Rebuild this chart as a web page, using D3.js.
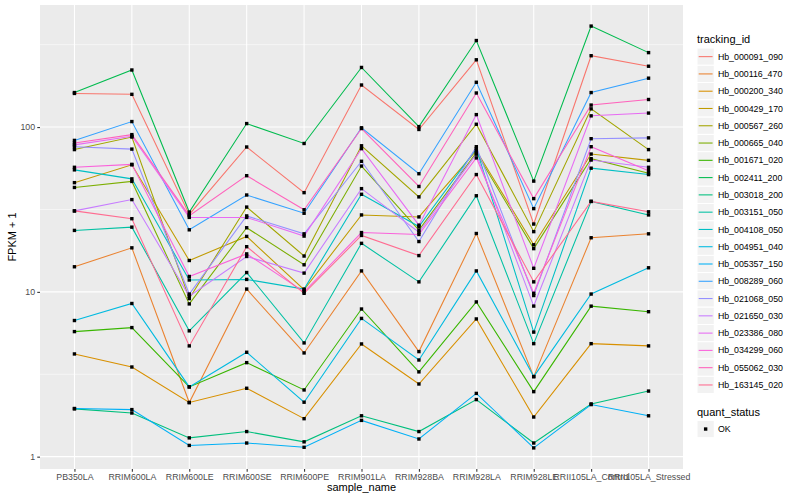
<!DOCTYPE html>
<html>
<head>
<meta charset="utf-8">
<script src="https://cdn.jsdelivr.net/npm/d3@7"></script>
<style>
  body { margin: 0; background: #fff; }
  text { font-family: "Liberation Sans", Arial, sans-serif; }
</style>
</head>
<body>
<svg id="chart"></svg>
<script>
'use strict';

// ── data ────────────────────────────────────────────────────────────────
const samples = ['PB350LA', 'RRIM600LA', 'RRIM600LE', 'RRIM600SE', 'RRIM600PE', 'RRIM901LA',
  'RRIM928BA', 'RRIM928LA', 'RRIM928LE', 'RRII105LA_Control', 'RRII105LA_Stressed'];

const trackingIds = ['Hb_000091_090', 'Hb_000116_470', 'Hb_000200_340', 'Hb_000429_170',
  'Hb_000567_260', 'Hb_000665_040', 'Hb_001671_020', 'Hb_002411_200', 'Hb_003018_200',
  'Hb_003151_050', 'Hb_004108_050', 'Hb_004951_040', 'Hb_005357_150', 'Hb_008289_060',
  'Hb_021068_050', 'Hb_021650_030', 'Hb_023386_080', 'Hb_034299_060', 'Hb_055062_030',
  'Hb_163145_020'];

// FPKM + 1, one row per tracking_id, columns in samples order
const fpkmPlusOne = [
  [160, 158, 29.5, 75.7, 40, 180, 96.7, 256, 25.8, 271, 234],        // 000091_090
  [14.2, 18.5, 2.13, 10.4, 4.26, 13.4, 4.34, 22.6, 3.06, 21.3, 22.5], // 000116_470
  [4.2, 3.5, 2.13, 2.6, 1.7, 4.83, 2.76, 6.85, 1.74, 4.85, 4.7],      // 000200_340
  [46, 59, 15.5, 21.7, 10.3, 29.3, 28.5, 72, 19.3, 68.6, 62.8],       // 000429_170
  [73, 87, 9.1, 32.7, 16.5, 77, 37.7, 104, 23.2, 129, 73],            // 000567_260
  [43, 46.8, 8.45, 24.5, 14.6, 58, 23.7, 70, 18.3, 64.3, 52.5],       // 000665_040
  [5.74, 6.07, 2.65, 3.72, 2.54, 7.87, 3.27, 8.69, 2.48, 8.19, 7.58], // 001671_020
  [162, 222, 30.5, 105, 79.5, 230, 100.6, 335, 47, 410, 283],         // 002411_200
  [1.95, 1.84, 1.3, 1.42, 1.23, 1.77, 1.42, 2.22, 1.21, 2.09, 2.5],   // 003018_200
  [23.6, 24.7, 5.8, 13.1, 4.9, 19.7, 11.5, 38.3, 4.85, 35.4, 29.3],   // 003151_050
  [55, 48.5, 11.8, 11.9, 10.4, 39.1, 24.9, 74, 5.7, 56.3, 51.5],      // 004108_050
  [6.7, 8.5, 2.65, 4.3, 2.14, 6.9, 3.86, 13.4, 3.06, 9.7, 14],        // 004951_040
  [1.96, 1.93, 1.17, 1.21, 1.14, 1.66, 1.28, 2.42, 1.13, 2.07, 1.77], // 005357_150
  [83, 108, 23.8, 38.7, 30, 99, 52.1, 187, 32, 162, 198],             // 008289_060
  [76, 73.5, 9.7, 28.9, 22.5, 62, 20.2, 76, 9.5, 85, 86],             // 021068_050
  [31, 36.3, 9.4, 16.4, 13, 42.3, 23, 68.5, 8.2, 63.1, 57],           // 021650_030
  [78, 88, 28.3, 28.3, 21.8, 74, 25.4, 119, 13.9, 117, 121.6],        // 023386_080
  [57, 59.4, 12.4, 17, 10, 22.9, 22.3, 65, 9.8, 76, 54.4],            // 034299_060
  [80, 90, 29, 50.7, 31.5, 98, 43.6, 161, 36.8, 136, 147],            // 055062_030
  [31, 27.8, 4.7, 18.8, 9.8, 22, 16.6, 51.5, 11.5, 35.4, 30.6],       // 163145_020
];

const quantStatus = ['OK'];
const yTicks = [1, 10, 100];
const yMinor = [Math.sqrt(10), Math.sqrt(1000), Math.sqrt(100000)];

// ggplot hue palette, 20 levels
const palette = ['#F8766D', '#EA8331', '#D89000', '#C09B00', '#A3A500', '#7CAE00', '#39B600',
  '#00BB4E', '#00BF7D', '#00C1A3', '#00BFC4', '#00BAE0', '#00B0F6', '#35A2FF', '#9590FF',
  '#C77CFF', '#E76BF3', '#FA62DB', '#FF62BC', '#FF6C91'];

// ── layout ──────────────────────────────────────────────────────────────
const W = 800, H = 500;
const P = { l: 40, r: 683, t: 5, b: 469 };
const TXT = '#4D4D4D';

const svg = d3.select('#chart').attr('width', W).attr('height', H);

const color = d3.scaleOrdinal().domain(trackingIds).range(palette);
const x = d3.scalePoint().domain(samples).range([P.l, P.r]).padding(0.6);

// log scale with ggplot-style 5% expansion in log space
const all = fpkmPlusOne.flat();
const lo = Math.log10(d3.min(all)), hi = Math.log10(d3.max(all));
const ex = (hi - lo) * 0.05;
const y = d3.scaleLog().domain([10 ** (lo - ex), 10 ** (hi + ex)]).range([P.b, P.t]);

// ── panel + grid ────────────────────────────────────────────────────────
svg.append('rect')
  .attr('x', P.l).attr('y', P.t)
  .attr('width', P.r - P.l).attr('height', P.b - P.t)
  .attr('fill', '#EBEBEB');

const grid = svg.append('g');
grid.selectAll('.minor')
  .data(yMinor.filter(v => v >= y.domain()[0] && v <= y.domain()[1]))
  .join('line')
  .attr('x1', P.l).attr('x2', P.r)
  .attr('y1', d => y(d)).attr('y2', d => y(d))
  .attr('stroke', '#fff').attr('stroke-width', 0.53);
grid.selectAll('.hmaj')
  .data(yTicks)
  .join('line')
  .attr('x1', P.l).attr('x2', P.r)
  .attr('y1', d => y(d)).attr('y2', d => y(d))
  .attr('stroke', '#fff').attr('stroke-width', 1.07);
grid.selectAll('.vmaj')
  .data(samples)
  .join('line')
  .attr('x1', d => x(d)).attr('x2', d => x(d))
  .attr('y1', P.t).attr('y2', P.b)
  .attr('stroke', '#fff').attr('stroke-width', 1.07);

// ── lines + points ──────────────────────────────────────────────────────
const series = trackingIds.map((id, i) => ({
  id, values: samples.map((s, j) => ({ s, v: fpkmPlusOne[i][j] }))
}));

const line = d3.line().x(d => x(d.s)).y(d => y(d.v));

svg.append('g').selectAll('path')
  .data(series)
  .join('path')
  .attr('d', d => line(d.values))
  .attr('fill', 'none')
  .attr('stroke', d => color(d.id))
  .attr('stroke-width', 1.07);

const pts = series.flatMap(d => d.values);
const ps = 3.4;
svg.append('g').selectAll('rect')
  .data(pts)
  .join('rect')
  .attr('x', d => x(d.s) - ps / 2)
  .attr('y', d => y(d.v) - ps / 2)
  .attr('width', ps).attr('height', ps)
  .attr('fill', '#000');

// ── axes ────────────────────────────────────────────────────────────────
function styleAxis(g) {
  g.select('.domain').remove();
  g.selectAll('.tick line').attr('stroke', '#333333').attr('stroke-width', 1.07);
  g.selectAll('.tick text')
    .attr('fill', TXT)
    .attr('font-size', 8.8)
    .attr('font-family', '"Liberation Sans", Arial, sans-serif');
}

svg.append('g')
  .attr('transform', `translate(${P.l},0)`)
  .call(d3.axisLeft(y).tickValues(yTicks).tickFormat(d3.format('d')).tickSize(2.74).tickPadding(2.2))
  .call(styleAxis);

svg.append('g')
  .attr('transform', `translate(0,${P.b})`)
  .call(d3.axisBottom(x).tickSize(2.74).tickPadding(2.2))
  .call(styleAxis);

svg.append('text')
  .attr('x', (P.l + P.r) / 2).attr('y', 491)
  .attr('text-anchor', 'middle')
  .attr('font-size', 11)
  .attr('fill', '#000')
  .text('sample_name');

svg.append('text')
  .attr('transform', `translate(15.5,${(P.t + P.b) / 2}) rotate(-90)`)
  .attr('text-anchor', 'middle')
  .attr('font-size', 11)
  .attr('fill', '#000')
  .text('FPKM + 1');

// ── legends ─────────────────────────────────────────────────────────────
const LX = 697, KEY = 17.28;
const leg = svg.append('g');

leg.append('text')
  .attr('x', LX).attr('y', 43)
  .attr('font-size', 11).attr('fill', '#000')
  .text('tracking_id');

const rows = leg.selectAll('.row')
  .data(trackingIds)
  .join('g')
  .attr('transform', (d, i) => `translate(${LX},${48 + i * KEY})`);

rows.append('rect')
  .attr('width', KEY).attr('height', KEY)
  .attr('fill', '#F2F2F2').attr('stroke', '#fff').attr('stroke-width', 1);
rows.append('line')
  .attr('x1', 1.7).attr('x2', KEY - 1.7)
  .attr('y1', KEY / 2).attr('y2', KEY / 2)
  .attr('stroke', d => color(d)).attr('stroke-width', 1.07);
rows.append('text')
  .attr('x', KEY + 3.6).attr('y', KEY / 2).attr('dy', '0.35em')
  .attr('font-size', 8.8).attr('fill', '#000')
  .text(d => d);

leg.append('text')
  .attr('x', LX).attr('y', 415.5)
  .attr('font-size', 11).attr('fill', '#000')
  .text('quant_status');

const qs = leg.selectAll('.qrow')
  .data(quantStatus)
  .join('g')
  .attr('transform', (d, i) => `translate(${LX},${420.4 + i * KEY})`);
qs.append('rect')
  .attr('width', KEY).attr('height', KEY)
  .attr('fill', '#F2F2F2').attr('stroke', '#fff').attr('stroke-width', 1);
qs.append('rect')
  .attr('x', KEY / 2 - ps / 2).attr('y', KEY / 2 - ps / 2)
  .attr('width', ps).attr('height', ps)
  .attr('fill', '#000');
qs.append('text')
  .attr('x', KEY + 3.6).attr('y', KEY / 2).attr('dy', '0.35em')
  .attr('font-size', 8.8).attr('fill', '#000')
  .text(d => d);
</script>
</body>
</html>
